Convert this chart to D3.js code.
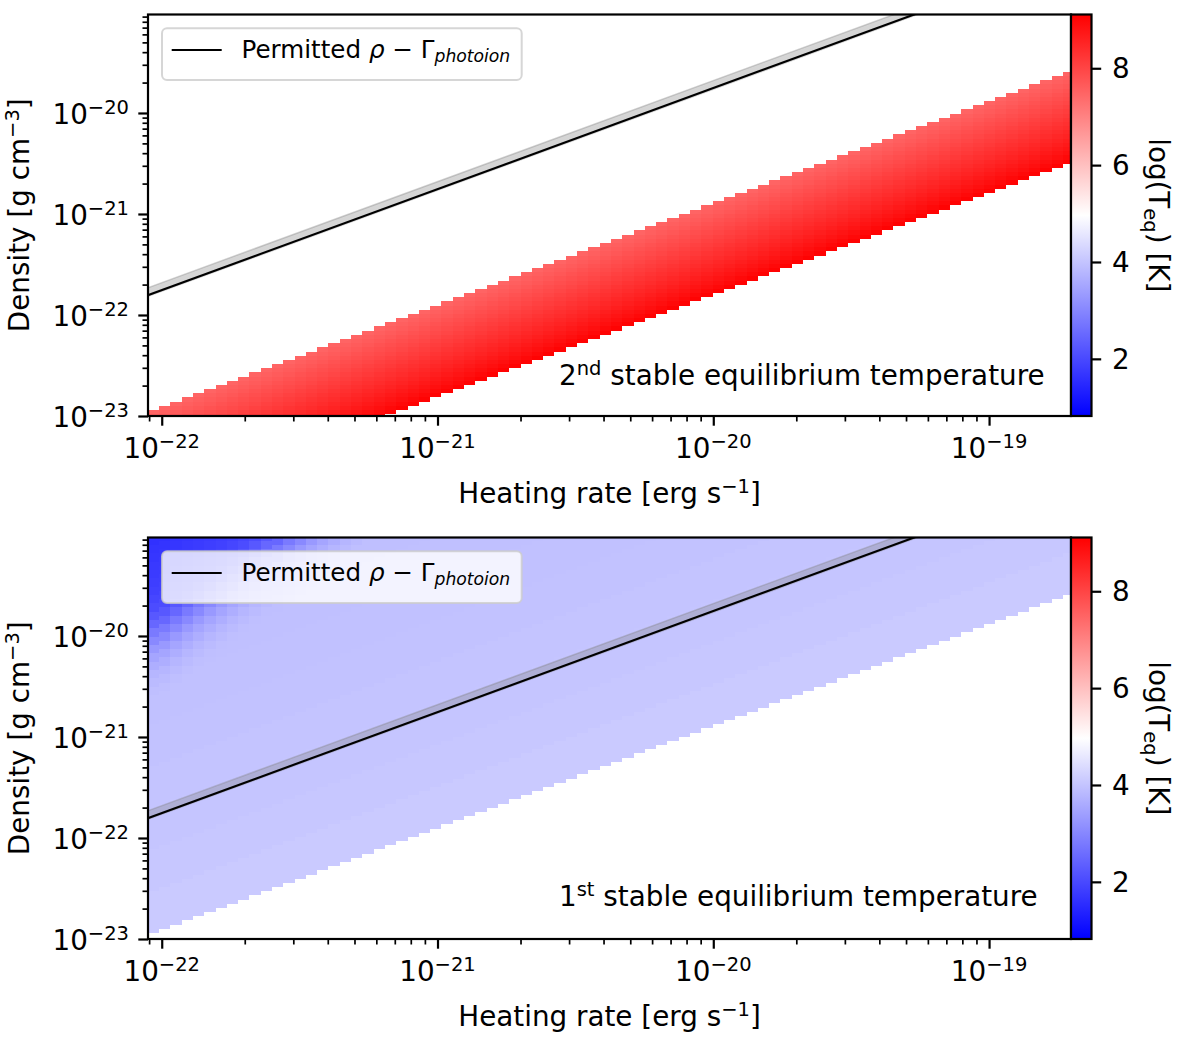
<!DOCTYPE html>
<html><head><meta charset="utf-8">
<script src="https://cdn.jsdelivr.net/npm/d3@7"></script>
<style>
body{margin:0;background:#fff;}
svg text{font-family:"DejaVu Sans",sans-serif;fill:#000;}
</style></head><body>
<svg id="chart" width="1182" height="1040"></svg>
<script>
// ---------------- data ----------------
const xTickValues = [1e-22, 1e-21, 1e-20, 1e-19];
const xTickExponents = ["−22", "−21", "−20", "−19"];
const yTickValues = [1e-23, 1e-22, 1e-21, 1e-20];
const yTickExponents = ["−23", "−22", "−21", "−20"];
const colorbarTicks = [2, 4, 6, 8];
const colorbarTickLabels = ["2", "4", "6", "8"];
const heatingRange = [8.917e-23, 1.982e-19];   // erg s^-1
const densityRange = [1e-23, 9.44e-20];        // g cm^-3
const logTRange = [0.82, 9.11];                // colour limits of log(T_eq)

// cell grid (log10 of cell edges)
const gammaGridStart = -22.0508, gammaGridStep = 0.04097, gammaCells = 82;
const rhoGridStart = -23.0228, rhoGridStep = 0.04132, rhoCells = 97;

// 2nd stable solution: cells on diagonals (row - column) from -20 up to +1
const secondDiagonals = [-20,-19,-18,-17,-16,-15,-14,-13,-12,-11,-10,-9,-8,-7,-6,-5,-4,-3,-2,-1,0,1];
const secondLogT      = [9.06,8.96,8.86,8.78,8.70,8.62,8.54,8.47,8.40,8.33,8.26,8.19,8.12,8.05,7.98,7.91,7.84,7.77,7.70,7.63,7.56,7.48];

// 1st stable solution: cells from diagonal +2 upward, read in blocks of 10 diagonals
const firstMinDiagonal = 2;
const firstLogTByBlock = [4.10, 4.06, 4.03, 4.00, 3.98, 3.96, 3.94, 3.92, 3.90, 3.88];
// cold corner (high density, low heating), read outward from the top-left cell, every 2 cells
const coldCornerLogT = [1.62,1.66,1.70,1.74,1.78,1.83,1.88,1.95,2.05,2.25,2.50,2.80,3.05,3.30,3.50,3.65,3.78,3.86,3.92];
const coldCornerColumnWeight = 1.9;

// permitted rho - Gamma_photoion relation and its spread
const permittedGamma   = [8.9e-23, 2.0e-19];
const permittedRho     = [1.57e-22, 3.53e-19];
const permittedRhoLow  = [1.53e-22, 3.44e-19];
const permittedRhoHigh = [1.86e-22, 4.18e-19];

const panelTexts = [["2", "nd"], ["1", "st"]];

// ---------------- drawing ----------------
const svg = d3.select("#chart");
const FS = 27.8, SUP = 19.5;
const L = 148, R = 1071;
const panels = [
  {top: 14.5, bottom: 416, kind: "second"},
  {top: 537.5, bottom: 939, kind: "first"}
];
const mid = (logTRange[0] + logTRange[1]) / 2;
const color = d3.scaleLinear().domain([logTRange[0], mid, logTRange[1]])
  .range(["#0000ff", "#ffffff", "#ff0000"]);

const defs = svg.append("defs");
const grad = defs.append("linearGradient").attr("id", "cbgrad")
  .attr("x1", 0).attr("y1", 1).attr("x2", 0).attr("y2", 0);
[0, 0.25, 0.5, 0.75, 1].forEach(f => {
  const v = logTRange[0] + f * (logTRange[1] - logTRange[0]);
  grad.append("stop").attr("offset", f).attr("stop-color", color(v));
});

function minorValues(domain) {
  const out = [];
  for (let k = -25; k <= -17; k++) for (let m = 2; m <= 9; m++) {
    const v = m * Math.pow(10, k);
    if (v >= domain[0] && v <= domain[1]) out.push(v);
  }
  return out;
}

function supText(sel, base, sup, after) {
  sel.append("tspan").text(base);
  sel.append("tspan").attr("dy", -10).attr("font-size", SUP).text(sup);
  if (after) sel.append("tspan").attr("dy", 10).text(after);
}

panels.forEach((p, pi) => {
  const g = svg.append("g");
  const x = d3.scaleLog().domain(heatingRange).range([L, R]);
  const y = d3.scaleLog().domain(densityRange).range([p.bottom, p.top]);

  const clipId = "clip" + pi;
  defs.append("clipPath").attr("id", clipId).append("rect")
    .attr("x", L).attr("y", p.top).attr("width", R - L).attr("height", p.bottom - p.top);

  // cells
  const cells = [];
  for (let c = 0; c < gammaCells; c++) {
    for (let r = 0; r < rhoCells; r++) {
      const d = r - c;
      let v = null;
      if (p.kind === "second") {
        const i = secondDiagonals.indexOf(d);
        if (i >= 0) v = secondLogT[i];
      } else if (d >= firstMinDiagonal) {
        v = firstLogTByBlock[Math.min(Math.floor((d - firstMinDiagonal) / 10), firstLogTByBlock.length - 1)];
        const s = (rhoCells - 1 - r) + coldCornerColumnWeight * c;
        const idx = Math.floor(s / 2);
        if (idx < coldCornerLogT.length) v = Math.min(v, coldCornerLogT[idx]);
      }
      if (v !== null) cells.push({
        g0: Math.pow(10, gammaGridStart + c * gammaGridStep),
        g1: Math.pow(10, gammaGridStart + (c + 1) * gammaGridStep),
        r0: Math.pow(10, rhoGridStart + r * rhoGridStep),
        r1: Math.pow(10, rhoGridStart + (r + 1) * rhoGridStep),
        v
      });
    }
  }
  const cg = g.append("g").attr("clip-path", `url(#${clipId})`);
  cg.selectAll("rect.cell").data(cells).join("rect").attr("class", "cell")
    .attr("x", d => Math.round(x(d.g0)))
    .attr("width", d => Math.round(x(d.g1)) - Math.round(x(d.g0)))
    .attr("y", d => Math.round(y(d.r1)))
    .attr("height", d => Math.round(y(d.r0)) - Math.round(y(d.r1)))
    .attr("fill", d => color(d.v))
    .attr("shape-rendering", "crispEdges");

  // permitted band and line
  const bandPts = permittedGamma.map((gm, i) => [x(gm), y(permittedRhoLow[i])])
    .concat(permittedGamma.map((gm, i) => [x(gm), y(permittedRhoHigh[i])]).reverse());
  cg.append("path").attr("d", d3.line()(bandPts) + "Z")
    .attr("fill", "#808080").attr("fill-opacity", 0.33)
    .attr("stroke", "#808080").attr("stroke-opacity", 0.35).attr("stroke-width", 1.5);
  cg.append("path").attr("d", d3.line()(permittedGamma.map((gm, i) => [x(gm), y(permittedRho[i])])))
    .attr("fill", "none").attr("stroke", "#000").attr("stroke-width", 2.1);

  // axes ticks
  const xAxisMaj = d3.axisBottom(x).tickValues(xTickValues).tickSize(9.7).tickSizeOuter(0).tickFormat(() => "");
  const xAxisMin = d3.axisBottom(x).tickValues(minorValues(heatingRange)).tickSize(5.5).tickSizeOuter(0).tickFormat(() => "");
  const yAxisMaj = d3.axisLeft(y).tickValues(yTickValues).tickSize(9.7).tickSizeOuter(0).tickFormat(() => "");
  const yAxisMin = d3.axisLeft(y).tickValues(minorValues(densityRange)).tickSize(5.5).tickSizeOuter(0).tickFormat(() => "");
  const gxM = g.append("g").attr("transform", `translate(0,${p.bottom})`).call(xAxisMaj);
  const gxm = g.append("g").attr("transform", `translate(0,${p.bottom})`).call(xAxisMin);
  const gyM = g.append("g").attr("transform", `translate(${L},0)`).call(yAxisMaj);
  const gym = g.append("g").attr("transform", `translate(${L},0)`).call(yAxisMin);
  [gxM, gxm, gyM, gym].forEach(a => { a.select(".domain").remove(); });
  [gxM, gyM].forEach(a => a.selectAll(".tick line").attr("stroke", "#000").attr("stroke-width", 2.2));
  [gxm, gym].forEach(a => a.selectAll(".tick line").attr("stroke", "#000").attr("stroke-width", 1.7));

  // tick labels
  xTickValues.forEach((v, i) => {
    const t = g.append("text").attr("x", x(v)).attr("y", p.bottom + 42)
      .attr("text-anchor", "middle").attr("font-size", FS);
    supText(t, "10", xTickExponents[i]);
  });
  yTickValues.forEach((v, i) => {
    const t = g.append("text").attr("x", 129).attr("y", y(v) + 10.7)
      .attr("text-anchor", "end").attr("font-size", FS);
    supText(t, "10", yTickExponents[i]);
  });

  // frame
  g.append("rect").attr("x", L).attr("y", p.top).attr("width", R - L).attr("height", p.bottom - p.top)
    .attr("fill", "none").attr("stroke", "#000").attr("stroke-width", 2.2);

  // axis labels
  const xl = g.append("text").attr("x", (L + R) / 2).attr("y", p.bottom + 87)
    .attr("text-anchor", "middle").attr("font-size", FS);
  supText(xl, "Heating rate [erg s", "−1", "]");
  const yl = g.append("text").attr("transform", `translate(29,${(p.top + p.bottom) / 2}) rotate(-90)`)
    .attr("text-anchor", "middle").attr("font-size", FS);
  supText(yl, "Density [g cm", "−3", "]");

  // annotation
  const an = g.append("text").attr("x", 559).attr("y", p.bottom - (pi === 0 ? 31 : 33)).attr("font-size", FS);
  supText(an, panelTexts[pi][0], panelTexts[pi][1], " stable equilibrium temperature");

  // legend
  const ly = p.top + 13.8;
  g.append("rect").attr("x", 162).attr("y", ly).attr("width", 359.7).attr("height", 51.7)
    .attr("rx", 5).attr("fill", "#fff").attr("fill-opacity", 0.8)
    .attr("stroke", "#cccccc").attr("stroke-opacity", 0.8).attr("stroke-width", 2);
  g.append("line").attr("x1", 171.7).attr("x2", 221.7).attr("y1", ly + 21.7).attr("y2", ly + 21.7)
    .attr("stroke", "#000").attr("stroke-width", 2.1);
  const lt = g.append("text").attr("x", 241.5).attr("y", ly + 30).attr("font-size", 24.6);
  lt.append("tspan").text("Permitted ");
  lt.append("tspan").attr("font-style", "italic").text("ρ");
  lt.append("tspan").text(" − Γ");
  lt.append("tspan").attr("font-style", "italic").attr("font-size", 17.2).attr("dy", 4).text("photoion");

  // colorbar
  const cbX = 1071, cbW = 20.5;
  const cy = d3.scaleLinear().domain(logTRange).range([p.bottom, p.top]);
  g.append("rect").attr("x", cbX).attr("y", p.top).attr("width", cbW).attr("height", p.bottom - p.top)
    .attr("fill", "url(#cbgrad)");
  g.append("rect").attr("x", cbX).attr("y", p.top).attr("width", cbW).attr("height", p.bottom - p.top)
    .attr("fill", "none").attr("stroke", "#000").attr("stroke-width", 2.2);
  const cba = g.append("g").attr("transform", `translate(${cbX + cbW},0)`)
    .call(d3.axisRight(cy).tickValues(colorbarTicks).tickSize(9.7).tickSizeOuter(0).tickFormat(() => ""));
  cba.select(".domain").remove();
  cba.selectAll(".tick line").attr("stroke", "#000").attr("stroke-width", 2.2);
  colorbarTicks.forEach((v, i) => {
    g.append("text").attr("x", 1112).attr("y", cy(v) + 10).attr("font-size", FS).text(colorbarTickLabels[i]);
  });
  const cl = g.append("text").attr("transform", `translate(1149,${(p.top + p.bottom) / 2}) rotate(90)`)
    .attr("text-anchor", "middle").attr("font-size", FS);
  cl.append("tspan").text("log(T");
  cl.append("tspan").attr("font-size", SUP).attr("dy", 5).text("eq");
  cl.append("tspan").attr("dy", -5).text(") [K]");
});
</script>
</body></html>
